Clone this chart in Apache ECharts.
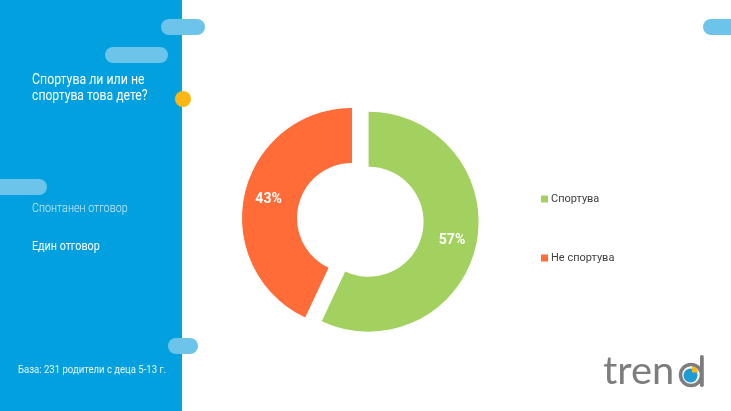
<!DOCTYPE html>
<html>
<head>
<meta charset="utf-8">
<script src="https://cdn.jsdelivr.net/npm/echarts@6/dist/echarts.min.js"></script>
<style>
html,body{margin:0;padding:0;background:#fff;}
#chart{width:731px;height:411px;}
</style>
</head>
<body>
<div id="chart"></div>
<script>
// Data
var categories = ['Спортува', 'Не спортува'];
var values = [57, 43];
var titleLines = ['Спортува ли или не', 'спортува това дете?'];
var noteSpont = 'Спонтанен отговор';
var noteSingle = 'Един отговор';
var baseText = 'База: 231 родители с деца 5-13 г.';

var sliceColors = ['#A2D160', '#FF6C37'];
var pillColor = '#6CC4EA';
var FONT = 'Roboto, "Noto Sans", sans-serif';

var chart = echarts.init(document.getElementById('chart'), null, {renderer: 'canvas'});

function pill(x, y, w, h) {
  return {type: 'rect', shape: {x: x, y: y, width: w, height: h, r: h / 2}, style: {fill: pillColor}, z: 2};
}
function ctext(x, y, txt, fill, font, sx) {
  return {type: 'text', x: x, y: y, scaleX: sx, z: 4,
    style: {text: txt, fill: fill, font: font, verticalAlign: 'middle'}};
}

var option = {
  animation: false,
  backgroundColor: '#ffffff',
  legend: {
    orient: 'vertical',
    left: 541,
    top: 192,
    padding: 0,
    itemWidth: 7,
    itemHeight: 7,
    itemGap: 45,
    icon: 'rect',
    selectedMode: false,
    data: categories,
    textStyle: {fontFamily: FONT, fontSize: 11, color: '#404040', lineHeight: 14, padding: [0, 0, 0, -2]}
  },
  graphic: [
    {type: 'rect', shape: {x: 0, y: 0, width: 182, height: 411}, style: {fill: '#03A0E0'}, z: 1},
    pill(161, 19, 44, 16),
    pill(105, 47, 63, 16),
    pill(-10, 179, 57, 16),
    pill(168, 338, 30, 16),
    pill(703, 19, 40, 16),
    {type: 'circle', shape: {cx: 183, cy: 99, r: 8}, style: {fill: '#FDB714'}, z: 3},
    ctext(32, 80, titleLines[0], '#ffffff', '14px ' + FONT, 0.88),
    ctext(32, 96, titleLines[1], '#ffffff', '14px ' + FONT, 0.87),
    ctext(32, 209, noteSpont, '#CFEAF8', '300 12.5px ' + FONT, 0.86),
    ctext(32, 247, noteSingle, '#ffffff', '12.5px ' + FONT, 0.86),
    ctext(18, 370, baseText, '#E6F5FC', '10.5px ' + FONT, 0.91),
    // logo
    {type: 'text', x: 603, y: 372, scaleX: 1.05, z: 4, style: {text: 'tren', fill: '#7D7D7D', font: '38px Lato, ' + FONT, verticalAlign: 'middle'}},
    {type: 'circle', shape: {cx: 691, cy: 375, r: 10.5}, style: {fill: 'none', stroke: '#7D7D7D', lineWidth: 3.5}, z: 4},
    {type: 'rect', shape: {x: 700, y: 355, width: 3.8, height: 32, r: 1.8}, style: {fill: '#7D7D7D'}, z: 4},
    {type: 'circle', shape: {cx: 690.5, cy: 375.5, r: 7}, style: {fill: '#1E9AD6'}, z: 5},
    {type: 'sector', shape: {cx: 692, cy: 372.5, r: 6, r0: 0, startAngle: -Math.PI / 2, endAngle: 0}, style: {fill: '#FDB714'}, z: 6}
  ],
  series: [{
    type: 'pie',
    center: [352, 218],
    radius: [55, 110],
    startAngle: 90,
    clockwise: true,
    selectedMode: 'single',
    selectedOffset: 17,
    avoidLabelOverlap: false,
    label: {show: true, position: 'inside', formatter: '{c}%', color: '#ffffff', fontFamily: FONT, fontWeight: 'bold', fontSize: 14},
    labelLine: {show: false},
    emphasis: {disabled: true},
    data: categories.map(function (c, i) {
      return {name: c, value: values[i], selected: i === 0, itemStyle: {color: sliceColors[i]}};
    })
  }]
};
chart.setOption(option);
</script>
</body>
</html>
